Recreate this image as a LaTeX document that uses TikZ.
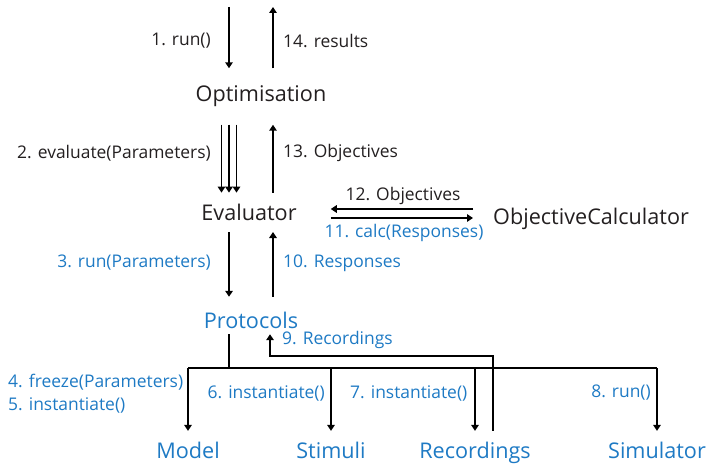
\documentclass[tikz,border=0pt]{standalone}
\usepackage{fontspec}
\setmainfont{Open Sans}
\usetikzlibrary{arrows.meta}
\definecolor{ink}{RGB}{35,31,32}
\definecolor{protoblue}{RGB}{30,122,196}

\begin{document}
\begin{tikzpicture}[x=1bp,y=-1bp,
  obj/.style={font=\fontsize{21.7}{26}\selectfont,text=ink,inner xsep=0pt},
  part/.style={font=\fontsize{21.7}{26}\selectfont,text=protoblue,text height=16.5bp,text depth=5bp,inner ysep=10.5bp},
  lbl/.style={font=\fontsize{17.5}{21}\selectfont,text=ink,inner sep=0pt},
  blbl/.style={lbl,text=protoblue},
  ln/.style={line width=1.6bp,draw=black},
  arr/.style={ln,-{Triangle[length=6bp,width=7.5bp]}}]
  \useasboundingbox (0,0) rectangle (707,464);
  % columns and free ends
  \coordinate (in) at (229,7); \coordinate (out) at (273,7);
  \coordinate (bus) at (0,368); \coordinate (fb) at (270,356);
  % main objects
  \node[obj,inner ysep=17.5bp] (opt) at (261,96.5) {Optimisation};
  \node[obj,inner ysep=11.2bp,inner xsep=34bp] (ev) at (249,212.3) {Evaluator};
  \node[obj,inner xsep=20bp,anchor=west] (oc) at (473,219) {ObjectiveCalculator};
  \node[obj,text=protoblue,text height=28bp,text depth=3bp,inner ysep=3bp] (pr) at (251,315.5) {Protocols};
  \node[part] (mo) at (188,452.3) {Model};
  \node[part] (st) at (331,452.3) {Stimuli};
  \node[part] (re) at (475,452.3) {Recordings};
  \node[part] (si) at (657,452.3) {Simulator};
  % calls down, results up
  \draw[arr] (in) -- (opt.north -| in);
  \draw[arr] (opt.north -| out) -- (out);
  \foreach \dx in {-7.5,0,7.5}
    \draw[arr] ([xshift=\dx bp]opt.south -| in) -- ([xshift=\dx bp]ev.north -| in);
  \draw[arr] (ev.north -| out) -- (opt.south -| out);
  \draw[arr] (ev.south -| in) -- (pr.north -| in);
  \draw[arr] (pr.north -| out) -- (ev.south -| out);
  \draw[arr] (oc.west |- 0,209) -- (ev.east |- 0,209);
  \draw[arr] (ev.east |- 0,218) -- (oc.west |- 0,218);
  % protocol bus
  \draw[ln] (pr.south -| in) -- (in |- bus);
  \draw[ln] (mo.north |- bus) -- (si.north |- bus);
  \foreach \n in {mo,st,re,si}
    \draw[arr] (\n.north |- bus) -- (\n.north);
  \draw[arr] ([xshift=18bp]re.north) |- (fb) -- (fb |- pr.south);
  % labels
  \node[lbl,anchor=east] (l1) at (211,41) {1. run()};
  \node[lbl,anchor=west] (l14) at (283,41) {14. results};
  \node[lbl,anchor=east] (l2) at (211,153) {2. evaluate(Parameters)};
  \node[lbl,anchor=west] (l13) at (283,153) {13. Objectives};
  \node[lbl] (l12) at (403,196) {12. Objectives};
  \node[blbl] (l11) at (404,233) {11. calc(Responses)};
  \node[blbl,anchor=east] (l3) at (211,263) {3. run(Parameters)};
  \node[blbl,anchor=west] (l10) at (283,263) {10. Responses};
  \node[blbl,anchor=west] (l9) at (282,340) {9. Recordings};
  \node[blbl,anchor=west] (l4) at (8,382) {4. freeze(Parameters)};
  \node[blbl,anchor=west] (l5) at (8,405) {5. instantiate()};
  \node[blbl,anchor=east] (l6) at (325,393) {6. instantiate()};
  \node[blbl,anchor=west] (l7) at (350,393) {7. instantiate()};
  \node[blbl,anchor=east] (l8) at (651,393) {8. run()};
\end{tikzpicture}
\end{document}
